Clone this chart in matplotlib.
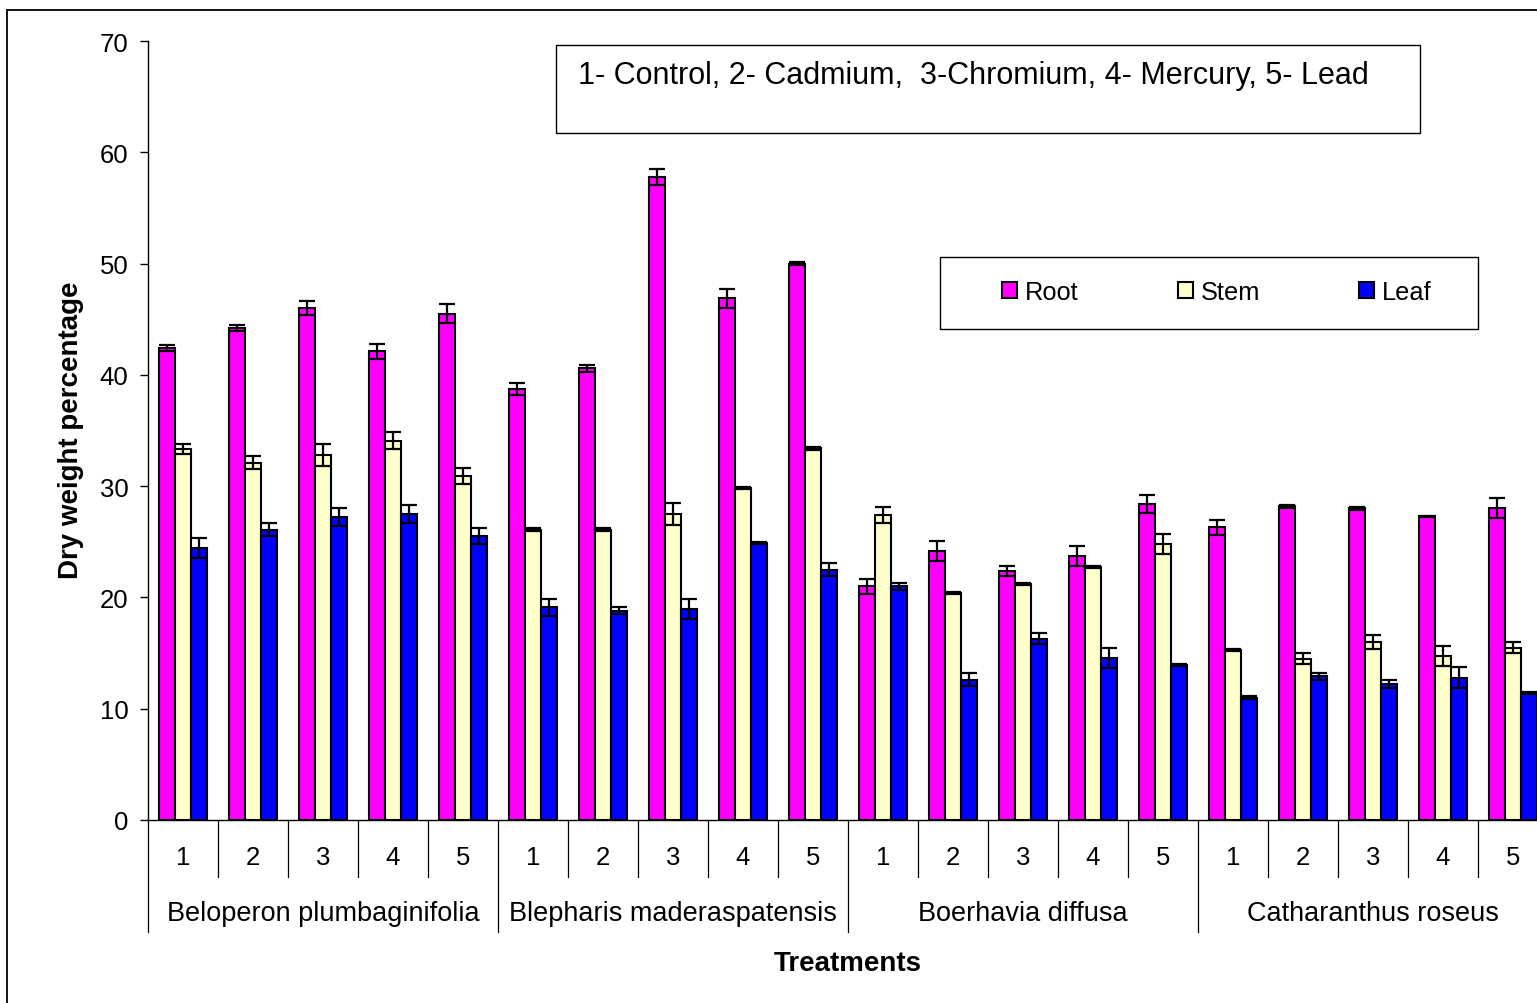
import matplotlib.pyplot as plt
import numpy as np
from matplotlib.patches import Patch, Rectangle

plt.rcParams['font.family'] = ['Liberation Sans', 'DejaVu Sans']

species = ['Beloperon plumbaginifolia', 'Blepharis maderaspatensis',
           'Boerhavia diffusa', 'Catharanthus roseus']
treatments = ['1', '2', '3', '4', '5']
parts = ['Root', 'Stem', 'Leaf']

root = [42.4, 44.2, 46.0, 42.1, 45.5, 38.7, 40.6, 57.8, 46.9, 50.0,
        21.0, 24.2, 22.4, 23.7, 28.4, 26.3, 28.2, 28.0, 27.3, 28.0]
root_err = [0.3, 0.3, 0.6, 0.7, 0.85, 0.55, 0.3, 0.7, 0.85, 0.1,
            0.7, 0.9, 0.45, 0.9, 0.8, 0.7, 0.15, 0.15, 0.05, 0.9]
stem = [33.3, 32.1, 32.8, 34.1, 30.9, 26.1, 26.1, 27.5, 29.8, 33.4,
        27.4, 20.4, 21.2, 22.7, 24.8, 15.3, 14.5, 16.0, 14.7, 15.5]
stem_err = [0.45, 0.6, 0.95, 0.8, 0.7, 0.1, 0.15, 0.95, 0.1, 0.15,
            0.7, 0.1, 0.1, 0.1, 0.9, 0.1, 0.5, 0.65, 0.9, 0.5]
leaf = [24.4, 26.1, 27.2, 27.5, 25.5, 19.1, 18.8, 19.0, 24.9, 22.5,
        21.0, 12.6, 16.3, 14.6, 13.9, 11.0, 12.9, 12.2, 12.8, 11.4]
leaf_err = [0.9, 0.6, 0.8, 0.8, 0.7, 0.8, 0.3, 0.9, 0.1, 0.55,
            0.3, 0.6, 0.5, 0.9, 0.1, 0.1, 0.3, 0.35, 0.95, 0.1]

colors = ['#ff00ff', '#ffffcc', '#0000ff']
W, H = 1537, 1004

fig = plt.figure(figsize=(W / 100, H / 100), dpi=100)
# plot area runs a little past the right edge, like the source image
ax = fig.add_axes([148 / W, (H - 821) / H, 1400 / W, 779 / H])

n = len(root)
x = np.arange(n)
bw = 0.226
for k, (vals, errs) in enumerate([(root, root_err), (stem, stem_err), (leaf, leaf_err)]):
    pos = x + (k - 1) * bw
    ax.bar(pos, vals, width=bw, color=colors[k], edgecolor='black', linewidth=1.5, zorder=2)
    ax.errorbar(pos, vals, yerr=errs, fmt='none', ecolor='black', elinewidth=1.6,
                capsize=5.6, capthick=1.6, zorder=3)

ax.set_xlim(-0.5, n - 0.5)
ax.set_ylim(0, 70)
ax.set_yticks(range(0, 71, 10))
ax.tick_params(axis='y', labelsize=18.5, length=6, width=1, direction='out', pad=8)
ax.set_xticks([])
for s in ['top', 'right']:
    ax.spines[s].set_visible(False)
ax.spines['left'].set_linewidth(1)
ax.spines['bottom'].set_linewidth(1)

# two level category axis
tr = ax.get_xaxis_transform()
for i in range(n + 1):
    low = -0.1438 if i % 5 == 0 else -0.0732
    ax.plot([i - 0.5, i - 0.5], [0, low], color='black', lw=0.9, transform=tr, clip_on=False)
for i in range(n):
    ax.text(i, -0.0475, treatments[i % 5], transform=tr, ha='center', va='center', fontsize=18.5)
for j, sp in enumerate(species):
    ax.text(j * 5 + 2, -0.119, sp, transform=tr, ha='center', va='center', fontsize=19.5)

fig.text(71 / W, 1 - 430 / H, 'Dry weight percentage', rotation=90, ha='center', va='center',
         fontsize=20, fontweight='bold')
fig.text(848 / W, 1 - 964 / H, 'Treatments', ha='center', va='center',
         fontsize=20, fontweight='bold')

# note box with treatment codes
fig.add_artist(Rectangle((556 / W, 1 - 134 / H), 864 / W, 88 / H, transform=fig.transFigure,
                         fill=False, edgecolor='black', lw=1))
fig.text(578 / W, 1 - 76 / H, '1- Control, 2- Cadmium,  3-Chromium, 4- Mercury, 5- Lead',
         ha='left', va='center', fontsize=22)

# legend box
fig.add_artist(Rectangle((940 / W, 1 - 330 / H), 538 / W, 72 / H, transform=fig.transFigure,
                         fill=False, edgecolor='black', lw=1))
handles = [Patch(facecolor=c, edgecolor='black', linewidth=1.5) for c in colors]
fig.legend(handles, parts, loc='center left', bbox_to_anchor=(1002 / W, 1 - 293 / H),
           ncol=3, frameon=False, fontsize=18.3, handlelength=0.6, handleheight=0.6,
           handletextpad=0.3, columnspacing=3.9, borderpad=0, borderaxespad=0)

# outer chart border
fig.add_artist(Rectangle((7 / W, -0.1), 1.2, 1.1 - 11 / H, transform=fig.transFigure,
                         fill=False, edgecolor='black', lw=1.3))

fig.savefig('out.png', dpi=100)
